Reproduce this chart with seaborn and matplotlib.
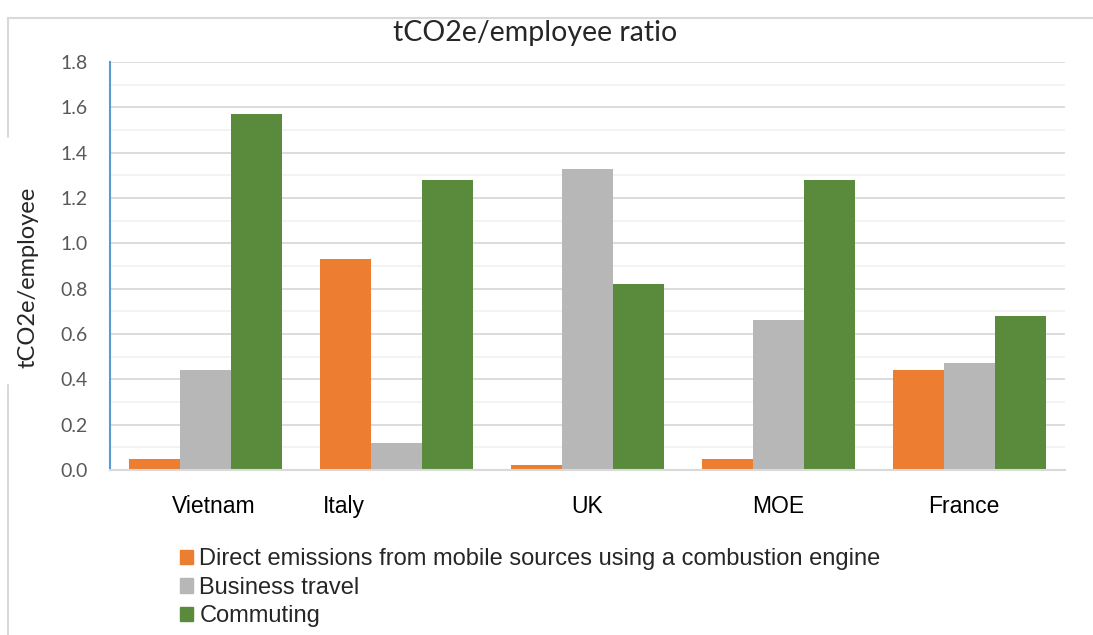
import pandas as pd
import seaborn as sns
import matplotlib.pyplot as plt
from matplotlib.lines import Line2D
from matplotlib.ticker import MultipleLocator
import matplotlib.transforms as mtransforms

# values
countries = ['Vietnam', 'Italy', 'UK', 'MOE', 'France']
series = ['Direct emissions from mobile sources using a combustion engine',
          'Business travel', 'Commuting']
direct = [0.05, 0.93, 0.02, 0.05, 0.44]
business = [0.44, 0.12, 1.33, 0.66, 0.47]
commuting = [1.57, 1.28, 0.82, 1.28, 0.68]
colors = ['#ED7D31', '#B7B7B7', '#5A8A3C']

df = pd.DataFrame({
    'country': countries * 3,
    'source': [series[0]] * 5 + [series[1]] * 5 + [series[2]] * 5,
    'value': direct + business + commuting,
})

sns.set_style('white')
plt.rcParams['font.family'] = ['Liberation Sans', 'DejaVu Sans']
calibri_like = ['Lato', 'DejaVu Sans']

fig = plt.figure(figsize=(10.93, 6.35), dpi=100)
ax = fig.add_axes([110 / 1093, 1 - 470 / 635, 955 / 1093, 408 / 635])

sns.barplot(data=df, x='country', y='value', hue='source', palette=colors,
            width=0.8, saturation=1, ax=ax, legend=False, linewidth=0)

ax.set_ylim(0, 1.8)
ax.set_xlim(-0.5, 4.5)
ax.yaxis.set_major_locator(MultipleLocator(0.2))
ax.yaxis.set_minor_locator(MultipleLocator(0.1))
ax.yaxis.set_major_formatter(plt.FormatStrFormatter('%.1f'))
ax.grid(axis='y', which='major', color='#D9D9D9', linewidth=1.3)
ax.grid(axis='y', which='minor', color='#F2F2F2', linewidth=1.3)
ax.set_axisbelow(True)

for s in ['top', 'right']:
    ax.spines[s].set_visible(False)
ax.spines['left'].set_color('#5B9BD5')
ax.spines['left'].set_linewidth(1.5)
ax.spines['bottom'].set_color('#D9D9D9')
ax.spines['bottom'].set_linewidth(1.5)

ax.tick_params(axis='y', which='major', direction='out', length=5, width=1.5,
               color='#5B9BD5', labelsize=14, labelcolor='#595959', pad=11)
ax.tick_params(axis='y', which='minor', length=0)
for lab in ax.get_yticklabels():
    lab.set_family(calibri_like)
ax.tick_params(axis='x', length=0, labelsize=16.5, labelcolor='black', pad=18)

# category labels sit a little off their groups in the reference
offsets = [8, -53, 0, 0, -6]
for lab, dx in zip(ax.get_xticklabels(), offsets):
    lab.set_transform(lab.get_transform() +
                      mtransforms.ScaledTranslation(dx / 100, 0, fig.dpi_scale_trans))

ax.set_xlabel('')
ax.set_ylabel('')
fig.text(28 / 1093, 1 - 277 / 635, 'tCO2e/employee', rotation=90, fontsize=17,
         ha='center', va='center', family=calibri_like)
fig.text(535 / 1093, 1 - 33 / 635, 'tCO2e/employee ratio', fontsize=20.5,
         ha='center', va='center', family=calibri_like)

# legend underneath the plot
handles = [plt.Rectangle((0, 0), 1, 1, color=c) for c in colors]
fig.legend(handles, series, loc='upper left',
           bbox_to_anchor=(171 / 1093, 1 - 539 / 635), frameon=False,
           fontsize=17, handlelength=0.55, handleheight=0.55,
           handletextpad=0.25, labelspacing=0.27, borderaxespad=0)

# light grey chart frame
frame = '#D9D9D9'
fig.add_artist(Line2D([8 / 1093, 1], [1 - 18 / 635] * 2, color=frame, lw=1.5))
fig.add_artist(Line2D([8 / 1093] * 2, [1 - 18 / 635, 1 - 137 / 635], color=frame, lw=1.5))
fig.add_artist(Line2D([8 / 1093] * 2, [1 - 385 / 635, 0], color=frame, lw=1.5))

fig.savefig('out.png', dpi=100)
plt.close(fig)
